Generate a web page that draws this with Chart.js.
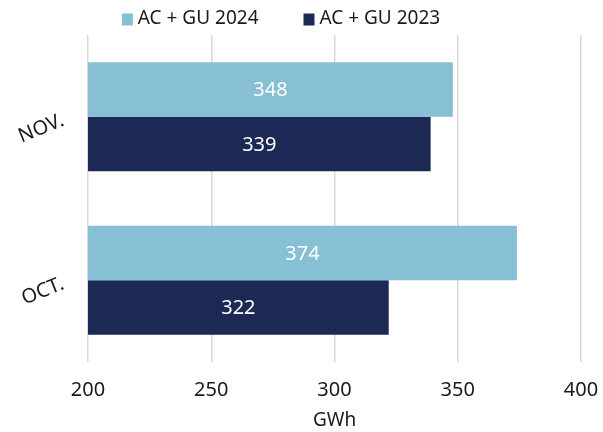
<!DOCTYPE html>
<html>
<head>
<meta charset="utf-8">
<script src="https://cdn.jsdelivr.net/npm/chart.js@4.4.1/dist/chart.umd.min.js"></script>
<style>
  html, body { margin: 0; padding: 0; background: #fff; }
  #wrap { width: 603px; height: 432px; position: relative; }
</style>
</head>
<body>
<div id="wrap"><canvas id="chart"></canvas></div>
<script>
// data
const categories = ['NOV.', 'OCT.'];
const series2024 = [348, 374];
const series2023 = [339, 322];
const xTicks = [200, 250, 300, 350, 400];

const FONT = '"Noto Sans", sans-serif';
const TEXT = '#1a1a1a';

// white value labels centred in each bar
const barValues = {
    id: 'barValues',
    afterDraw(chart) {
        const ctx = chart.ctx;
        const xs = chart.scales.x;
        ctx.save();
        ctx.font = '20px ' + FONT;
        ctx.fillStyle = '#ffffff';
        ctx.textAlign = 'center';
        ctx.textBaseline = 'middle';
        chart.data.datasets.forEach(function (ds, i) {
            chart.getDatasetMeta(i).data.forEach(function (bar, j) {
                const left = xs.getPixelForValue(xs.min);
                const right = xs.getPixelForValue(ds.data[j]);
                ctx.fillText(String(ds.data[j]), (left + right) / 2, bar.y + 1);
            });
        });
        ctx.restore();
    }
};

// rotated category labels on the left
const slantLabels = {
    id: 'slantLabels',
    afterDraw(chart) {
        const ctx = chart.ctx;
        const y = chart.scales.y;
        ctx.save();
        ctx.font = '20px ' + FONT;
        ctx.fillStyle = TEXT;
        ctx.textAlign = 'right';
        ctx.textBaseline = 'middle';
        categories.forEach(function (c, i) {
            ctx.save();
            ctx.translate(63, y.getPixelForValue(i) + 3);
            ctx.rotate(-22 * Math.PI / 180);
            ctx.fillText(c, 0, 0);
            ctx.restore();
        });
        ctx.restore();
    }
};

// legend row above the plot, a bit left of centre like the source
const topLegend = {
    id: 'topLegend',
    afterDraw(chart) {
        const ctx = chart.ctx;
        const ds = chart.data.datasets;
        ctx.save();
        ctx.font = '19px ' + FONT;
        ctx.textBaseline = 'middle';
        ctx.textAlign = 'left';
        const gap = 45, box = 11, boxGap = 5;
        const widths = ds.map(function (d) { return ctx.measureText(d.label).width; });
        let total = 0;
        widths.forEach(function (w, i) { total += box + boxGap + w + (i ? gap : 0); });
        let x = 281 - total / 2;
        const cy = 19;
        ds.forEach(function (d, i) {
            ctx.fillStyle = d.backgroundColor;
            ctx.fillRect(x, cy - box / 2, box, box + 1);
            ctx.fillStyle = TEXT;
            ctx.fillText(d.label, x + box + boxGap, cy);
            x += box + boxGap + widths[i] + gap;
        });
        ctx.restore();
    }
};

new Chart(document.getElementById('chart'), {
    type: 'bar',
    data: {
        labels: categories,
        datasets: [
            { label: 'AC + GU 2024', data: series2024, backgroundColor: '#87BFD4' },
            { label: 'AC + GU 2023', data: series2023, backgroundColor: '#1C2955' }
        ]
    },
    options: {
        indexAxis: 'y',
        responsive: true,
        maintainAspectRatio: false,
        animation: false,
        layout: { padding: { left: 0, right: 22, top: 35, bottom: 0 } },
        datasets: { bar: { categoryPercentage: 0.667, barPercentage: 1.0 } },
        plugins: {
            legend: { display: false },
            tooltip: { enabled: false }
        },
        scales: {
            x: {
                min: 200,
                max: 400,
                afterBuildTicks: function (scale) {
                    scale.ticks = xTicks.map(function (v) { return { value: v }; });
                },
                afterFit: function (scale) {
                    scale.height = 70;
                    scale.paddingLeft = 0;
                    scale.paddingRight = 0;
                },
                grid: { color: '#d9d9d9', lineWidth: 1.5, drawTicks: false },
                border: { display: false },
                ticks: { color: TEXT, font: { family: FONT, size: 20 }, padding: 16 },
                title: { display: true, text: 'GWh', color: TEXT, font: { family: FONT, size: 19 }, padding: { top: 0, bottom: 0 } }
            },
            y: {
                grid: { display: false },
                border: { display: false },
                ticks: { display: false },
                afterFit: function (scale) { scale.width = 88; }
            }
        }
    },
    plugins: [barValues, slantLabels, topLegend]
});
</script>
</body>
</html>
